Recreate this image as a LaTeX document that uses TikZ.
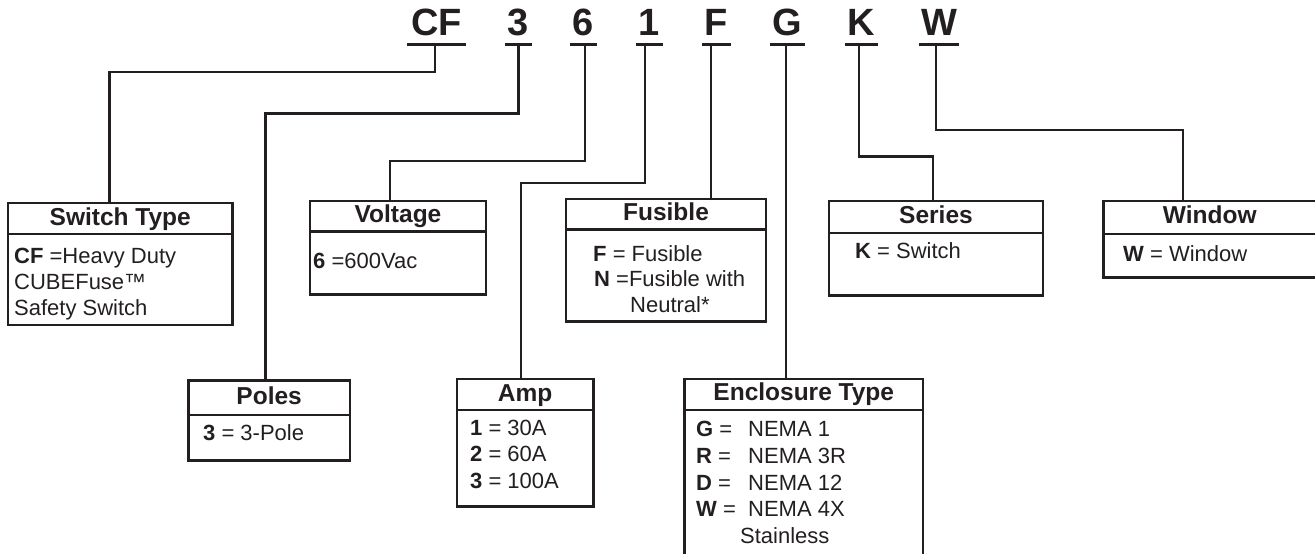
\documentclass[tikz,border=0pt]{standalone}
\usepackage{fontspec}
\setmainfont{Liberation Sans}
\definecolor{ink}{RGB}{35,31,32}
\tikzset{
  code/.style={font=\fontsize{38}{38}\selectfont\bfseries, text=ink, inner xsep=2.5pt, inner ysep=8.5pt, outer sep=0pt, anchor=south},
  uline/.style={line width=3pt, ink},
  wire/.style={line width=2.4pt, ink},
  box/.style={draw=ink, line width=2.8pt, inner sep=0pt, outer sep=0pt},
  rule/.style={line width=2.8pt, ink},
  boxtitle/.style={font=\fontsize{24.5}{24.5}\selectfont\bfseries, text=ink, inner sep=0pt, anchor=base},
  entry/.style={font=\fontsize{22}{22}\selectfont, text=ink, inner sep=0pt, anchor=base west},
}
\begin{document}
\begin{tikzpicture}[x=1pt,y=-1pt]
  \useasboundingbox (0,0) rectangle (1315,554);
  %Catalogue code letters
  \node[code, minimum width=59pt] (lcf) at (436.5,44) {CF};
  \node[code] (lpole) at (518.5,44) {3};
  \node[code] (lvolt) at (583.5,44) {6};
  \node[code] (lamp) at (649.5,44) {1};
  \node[code] (lfus) at (716.5,44) {F};
  \node[code] (lencl) at (787.5,44) {G};
  \node[code] (lser) at (861.5,44) {K};
  \node[code] (lwin) at (939,44) {W};
  \draw[uline] (lcf.south west) -- (lcf.south east);
  \draw[uline] (lpole.south west) -- (lpole.south east);
  \draw[uline] (lvolt.south west) -- (lvolt.south east);
  \draw[uline] (lamp.south west) -- (lamp.south east);
  \draw[uline] (lfus.south west) -- (lfus.south east);
  \draw[uline] (lencl.south west) -- (lencl.south east);
  \draw[uline] (lser.south west) -- (lser.south east);
  \draw[uline] (lwin.south west) -- (lwin.south east);

  %Boxes
  \node[box, minimum width=224.5pt, minimum height=122pt] (switch) at (120.25,264) {};
  \node[box, minimum width=161.7pt, minimum height=80pt] (poles) at (269.15,420.7) {};
  \node[box, minimum width=176pt, minimum height=93.5pt] (volt) at (398,247.75) {};
  \node[box, minimum width=136.3pt, minimum height=127.7pt] (amp) at (525.15,442.85) {};
  \node[box, minimum width=200pt, minimum height=122.7pt] (fusible) at (666,260.35) {};
  \node[box, minimum width=238.5pt, minimum height=183pt] (encl) at (803.75,470.5) {};
  \node[box, minimum width=214pt, minimum height=94.7pt] (series) at (936,248.35) {};
  \node[box, minimum width=212.5pt, minimum height=76.3pt] (window) at (1209.75,239.15) {};

  %Title rules
  \draw[rule] ([yshift=-31]switch.north west) -- ([yshift=-31]switch.north east);
  \draw[rule] ([yshift=-34.3]poles.north west) -- ([yshift=-34.3]poles.north east);
  \draw[rule] ([yshift=-30.5]volt.north west) -- ([yshift=-30.5]volt.north east);
  \draw[rule] ([yshift=-31]amp.north west) -- ([yshift=-31]amp.north east);
  \draw[rule] ([yshift=-30.5]fusible.north west) -- ([yshift=-30.5]fusible.north east);
  \draw[rule] ([yshift=-31]encl.north west) -- ([yshift=-31]encl.north east);
  \draw[rule] ([yshift=-32]series.north west) -- ([yshift=-32]series.north east);
  \draw[rule] ([yshift=-33]window.north west) -- ([yshift=-33]window.north east);

  %Connectors
  \draw[wire] ([xshift=-1.5]lcf.south) -- ++(0,28) -| ([xshift=-10.75]switch.north);
  \draw[wire] (lpole.south) -- ++(0,69.5) -| ([xshift=-3.65]poles.north);
  \draw[wire] ([xshift=1.5]lvolt.south) -- ++(0,117) -| ([xshift=-8]volt.north);
  \draw[wire] ([xshift=-4.5]lamp.south) -- ++(0,139) -| ([xshift=-4]amp.north);
  \draw[wire] ([xshift=-5.5]lfus.south) -- ([xshift=45]fusible.north);
  \draw[wire] ([xshift=-1.5]lencl.south) -- ([xshift=-17.75]encl.north);
  \draw[wire] ([xshift=-2.5]lser.south) -- ++(0,112.5) -| ([xshift=-3]series.north);
  \draw[wire] ([xshift=-3]lwin.south) -- ++(0,86) -| ([xshift=-26.75]window.north);

  %Titles
  \node[boxtitle] (switchT) at ([yshift=-22]switch.north) {Switch Type};
  \node[boxtitle] (polesT) at ([yshift=-23.3]poles.north) {Poles};
  \node[boxtitle] (voltT) at ([yshift=-21]volt.north) {Voltage};
  \node[boxtitle] (ampT) at ([yshift=-22.7]amp.north) {Amp};
  \node[boxtitle] (fusibleT) at ([yshift=-21]fusible.north) {Fusible};
  \node[boxtitle] (enclT) at ([yshift=-21]encl.north) {Enclosure Type};
  \node[boxtitle] (seriesT) at ([yshift=-22]series.north) {Series};
  \node[boxtitle] (windowT) at ([yshift=-22]window.north) {Window};

  %Entries
  \node[entry] (switch1) at (14,263) {{\bfseries CF} =Heavy Duty};
  \node[entry] (switch2) at (14,289) {CUBEFuse™};
  \node[entry] (switch3) at (14,315) {Safety Switch};
  \node[entry] (poles1) at (203,440) {{\bfseries 3} = 3-Pole};
  \node[entry] (volt1) at (313,268) {{\bfseries 6} =600Vac};
  \node[entry] (amp1) at (470,435) {{\bfseries 1} = 30A};
  \node[entry] (amp2) at (470,461.7) {{\bfseries 2} = 60A};
  \node[entry] (amp3) at (470,488.3) {{\bfseries 3} = 100A};
  \node[entry] (fusible1) at (593,261) {{\bfseries F} = Fusible};
  \node[entry] (fusible2) at (594,286.7) {{\bfseries N} =Fusible with};
  \node[entry] (fusible3) at (630,312) {Neutral*};
  \node[entry] (encl1) at (696,436.7) {\makebox[52pt][l]{{\bfseries G} =}NEMA 1};
  \node[entry] (encl2) at (696,463.3) {\makebox[52pt][l]{{\bfseries R} =}NEMA 3R};
  \node[entry] (encl3) at (696,490) {\makebox[52pt][l]{{\bfseries D} =}NEMA 12};
  \node[entry] (encl4) at (696,516.7) {\makebox[52pt][l]{{\bfseries W} =}NEMA 4X};
  \node[entry] (encl5) at (740,543.3) {Stainless};
  \node[entry] (series1) at (855,258) {{\bfseries K} = Switch};
  \node[entry] (window1) at (1123,261.7) {{\bfseries W} = Window};
\end{tikzpicture}
\end{document}
